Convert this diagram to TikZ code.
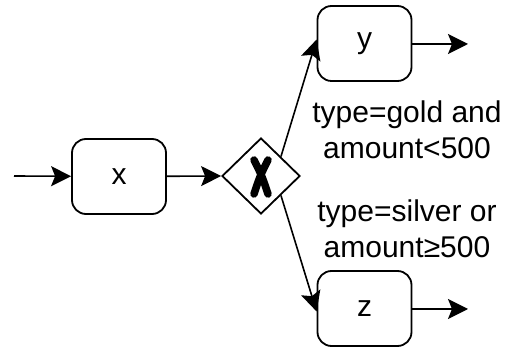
\documentclass[tikz,border=0pt]{standalone}
\usepackage{fontspec}
\setmainfont{Liberation Sans}
\usetikzlibrary{shapes.geometric,arrows.meta}
\begin{document}
\begin{tikzpicture}[x=1pt,y=-1pt,
  taskbox/.style={draw,line width=1.8pt,rounded corners=14pt,minimum width=94pt,minimum height=75pt,inner sep=0pt,font=\fontsize{30}{36}\selectfont},
  gate/.style={draw,diamond,line width=1.8pt,minimum width=78pt,minimum height=76pt,inner sep=0pt},
  flow/.style={line width=1.6pt,-{Stealth[length=20pt,width=20pt,inset=4pt]}},
  cond/.style={align=center,inner sep=0pt,font=\fontsize{30}{36}\selectfont}]
\useasboundingbox (0,0) rectangle (512,347);
\coordinate (in) at (14,176);
\node[taskbox] (x) at (119,176.5) {x};
\node[gate] (d) at (261,176) {};
\draw[line width=7.5pt,line cap=round] (254,160) .. controls (262,176) .. (268,194) (268,160) .. controls (260,176) .. (254,194);
\node[taskbox] (y) at (364.5,43.5) {y};
\node[taskbox] (z) at (364.5,308.5) {z};
\coordinate (yout) at (468,44);
\coordinate (zout) at (468,309);
\draw[flow] (in) -- (x);
\draw[flow] (x) -- (d.west);
\draw[flow] (d.north east) -- ([yshift=4pt]y.west);
\draw[flow] (d.south east) -- ([yshift=-3pt]z.west);
\draw[flow] (y.east |- yout) -- (yout);
\draw[flow] (z.east |- zout) -- (zout);
\node[cond] (c1) at (407,130) {type=gold and\\amount<500};
\node[cond] (c2) at (407,229) {type=silver or\\amount≥500};
\end{tikzpicture}
\end{document}
